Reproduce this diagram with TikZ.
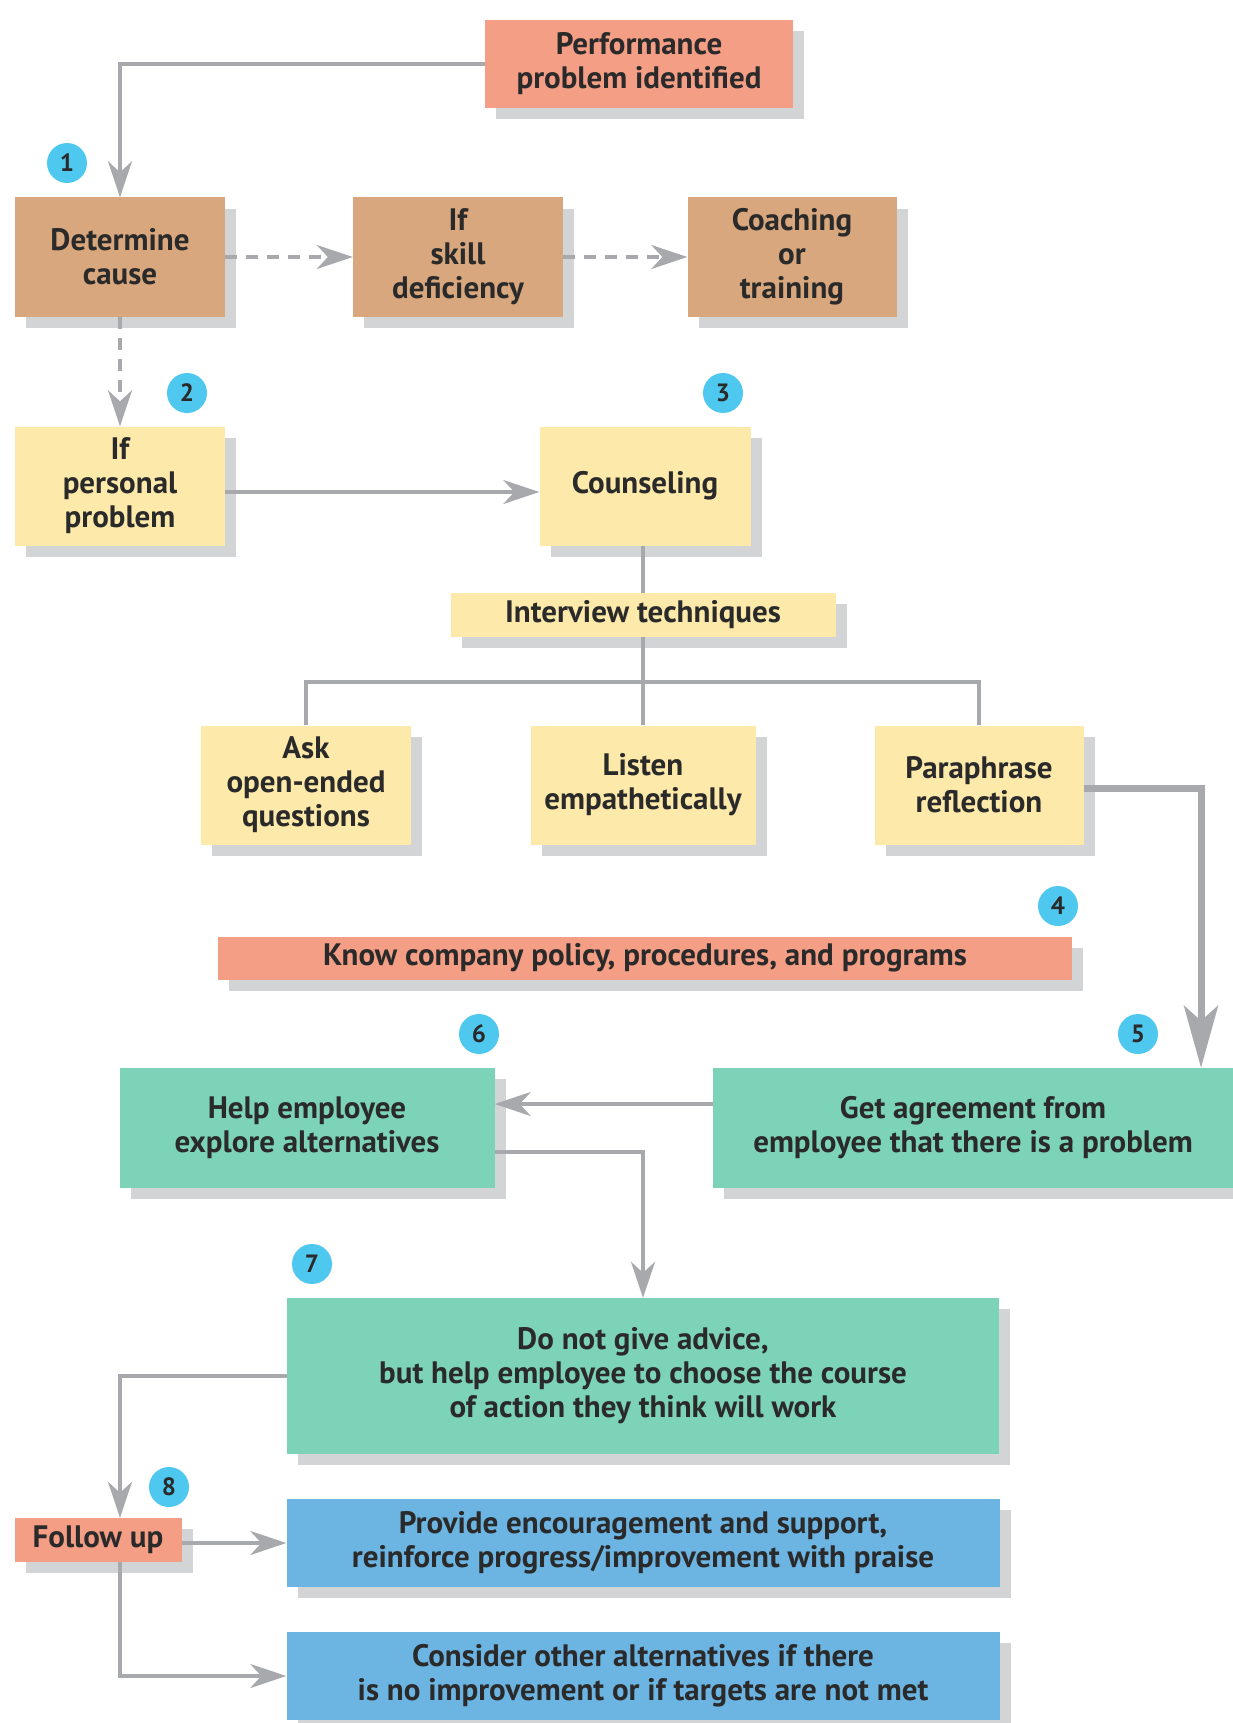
\documentclass[tikz,border=0pt]{standalone}
\usepackage{fontspec}
\setmainfont{PT Sans}
\usetikzlibrary{arrows.meta,shadows}
\definecolor{salmon}{HTML}{F39E85}
\definecolor{tan}{HTML}{D8A77D}
\definecolor{ylw}{HTML}{FDE9A9}
\definecolor{grn}{HTML}{7CD3B7}
\definecolor{blu}{HTML}{6CB4E2}
\definecolor{badgec}{HTML}{4FC8F0}
\definecolor{txt}{HTML}{2A2A2A}
\definecolor{lineg}{HTML}{A7A9AC}
\definecolor{shadg}{HTML}{D2D4D5}
\tikzset{
  box/.style={draw=none, fill=#1, align=center, inner sep=0pt, text=txt,
    font=\bfseries\fontsize{31}{34}\selectfont,
    drop shadow={shadow xshift=11pt, shadow yshift=-11pt, fill=shadg, opacity=1}},
  badge/.style={circle, fill=badgec, minimum size=40pt, inner sep=0pt, text=txt,
    font=\bfseries\fontsize{25}{25}\selectfont},
  conn/.style={draw=lineg, line width=3.5pt, -{Stealth[length=36pt,width=24pt,inset=11pt,fill=lineg]}},
  plainline/.style={draw=lineg, line width=3.5pt},
  dashconn/.style={conn, dash pattern=on 12pt off 9pt},
  bigconn/.style={draw=lineg, line width=7pt, -{Stealth[length=62pt,width=34pt,inset=15pt,fill=lineg]}}
}
\begin{document}
\begin{tikzpicture}[x=1pt,y=-1pt]
\useasboundingbox (0,0) rectangle (1233,1723);
% boxes
\node[box=salmon, minimum width=308pt, minimum height=88pt] (perf) at (639,64) {Performance\\problem identified};
\node[box=tan, minimum width=210pt, minimum height=119pt] (det) at (120,257) {Determine\\cause};
\node[box=tan, minimum width=210pt, minimum height=119pt] (skill) at (458,257) {If\\skill\\deficiency};
\node[box=tan, minimum width=209pt, minimum height=119pt] (coach) at (792,257) {Coaching\\or\\training};
\node[box=ylw, minimum width=210pt, minimum height=119pt] (pers) at (120,486) {If\\personal\\problem};
\node[box=ylw, minimum width=211pt, minimum height=119pt] (couns) at (645,486) {Counseling};
\node[box=ylw, minimum width=385pt, minimum height=44pt] (intv) at (643,615) {Interview techniques};
\node[box=ylw, minimum width=210pt, minimum height=119pt] (ask) at (306,785) {Ask\\open-ended\\questions};
\node[box=ylw, minimum width=225pt, minimum height=119pt] (listen) at (643,785) {Listen\\empathetically};
\node[box=ylw, minimum width=209pt, minimum height=119pt] (para) at (979,785) {Paraphrase\\reflection};
\node[box=salmon, minimum width=854pt, minimum height=43pt] (know) at (645,958) {Know company policy, procedures, and programs};
\node[box=grn, minimum width=375pt, minimum height=120pt] (help) at (307,1128) {Help employee\\explore alternatives};
\node[box=grn, minimum width=520pt, minimum height=120pt] (agree) at (973,1128) {Get agreement from\\employee that there is a problem};
\node[box=grn, minimum width=712pt, minimum height=156pt] (advice) at (643,1376) {Do not give advice,\\but help employee to choose the course\\of action they think will work};
\node[box=salmon, minimum width=167pt, minimum height=44pt] (follow) at (98,1540) {Follow up};
\node[box=blu, minimum width=713pt, minimum height=88pt] (provide) at (643,1543) {Provide encouragement and support,\\reinforce progress/improvement with praise};
\node[box=blu, minimum width=713pt, minimum height=88pt] (consider) at (643,1676) {Consider other alternatives if there\\is no improvement or if targets are not met};
% badges
\node[badge] (b1) at (67,163) {1};
\node[badge] (b2) at (187,393) {2};
\node[badge] (b3) at (723,393) {3};
\node[badge] (b4) at (1058,906) {4};
\node[badge] (b5) at (1138,1034) {5};
\node[badge] (b6) at (479,1034) {6};
\node[badge] (b7) at (312,1264) {7};
\node[badge] (b8) at (169,1487) {8};
% helper coordinates
\coordinate (colL) at (120,0);
\coordinate (colR) at (1201,0);
\coordinate (rowBranch) at (0,682);
\coordinate (rowPara) at (0,788);
\coordinate (rowAgree) at (0,1104);
\coordinate (rowHelp) at (0,1152);
\coordinate (rowPers) at (0,492);
% connectors
\draw[conn] (perf.west) -| (det.north);
\draw[dashconn] (det.east) -- (skill.west);
\draw[dashconn] (skill.east) -- (coach.west);
\draw[dashconn] (det.south) -- (pers.north);
\draw[conn] (pers.east |- rowPers) -- (couns.west |- rowPers);
\draw[plainline] (couns.south -| intv.north) -- (intv.north);
\draw[plainline] (intv.south) -- (intv.south |- rowBranch);
\draw[plainline] (ask.north) -- (ask.north |- rowBranch) -- (para.north |- rowBranch) -- (para.north);
\draw[plainline] (listen.north) -- (listen.north |- rowBranch);
\draw[bigconn] (para.east |- rowPara) -| (colR |- agree.north);
\draw[conn] (agree.west |- rowAgree) -- (help.east |- rowAgree);
\draw[conn] (help.east |- rowHelp) -| (advice.north);
\draw[conn] (advice.west) -| (colL |- follow.north);
\draw[conn] (follow.east |- provide.west) -- (provide.west);
\draw[conn] (colL |- follow.south) |- (consider.west);
\end{tikzpicture}
\end{document}
